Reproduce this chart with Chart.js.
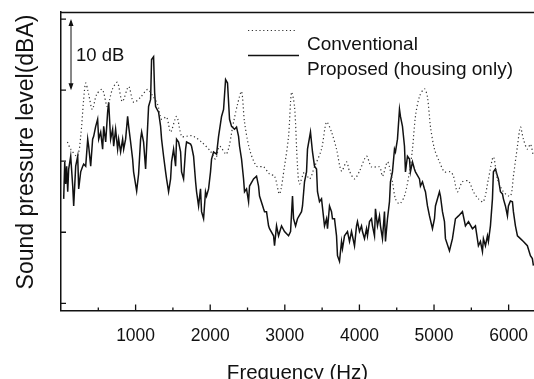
<!DOCTYPE html>
<html>
<head>
<meta charset="utf-8">
<script src="https://cdn.jsdelivr.net/npm/chart.js@4"></script>
<style>
  html, body { margin: 0; padding: 0; background: #fff; overflow: hidden; }
  #wrap { width: 534px; height: 398px; position: relative; }
</style>
</head>
<body>
<div id="wrap"><canvas id="chart"></canvas></div>
<script>
// Conventional (dotted)
const convFreq = [86, 130, 220, 264, 304, 331, 371, 420, 478, 554, 621, 688, 755, 822, 907, 973, 1067, 1161, 1228, 1295,
  1348, 1415, 1469, 1549, 1616, 1670, 1737, 1777, 1884, 2004, 2071, 2125, 2219, 2313, 2366, 2420, 2460, 2527, 2621, 2715,
  2795, 2862, 2929, 2996, 3050, 3090, 3130, 3170, 3197, 3264, 3331, 3398, 3492, 3559, 3626, 3693, 3760, 3827, 3867, 3934,
  4001, 4095, 4162, 4269, 4309, 4376, 4416, 4443, 4483, 4537, 4604, 4671, 4711, 4751, 4805, 4872, 4912, 4952, 5006, 5073,
  5140, 5220, 5260, 5314, 5381, 5462, 5528, 5595, 5662, 5729, 5796, 5850, 5930, 6024, 6064, 6118, 6158, 6198, 6251, 6292, 6332];
const convLevel = [52.7, 51.7, 50.7, 53.5, 58.7, 61.0, 59.4, 57.3, 59.4, 60.1, 57.7, 60.1, 61.1, 58.4, 60.5, 58.3, 59.0, 60.1, 59.2, 58.0,
  55.9, 56.2, 54.1, 56.3, 53.5, 53.5, 53.6, 53.5, 52.7, 51.4, 50.3, 52.1, 51.0, 55.5, 58.0, 59.8, 55.5, 51.7, 49.3, 49.2,
  48.2, 47.9, 45.4, 49.3, 53.5, 59.7, 57.7, 49.3, 46.8, 48.5, 47.5, 49.2, 51.7, 55.5, 54.1, 51.7, 48.6, 49.9, 48.6, 47.5,
  48.6, 50.7, 49.2, 49.2, 47.9, 49.9, 48.6, 47.1, 44.7, 44.0, 45.1, 48.5, 51.7, 56.3, 59.1, 60.2, 59.0, 54.9, 51.7, 49.9,
  48.5, 48.5, 47.9, 45.7, 47.1, 47.2, 45.7, 44.7, 44.3, 47.5, 50.6, 47.5, 45.7, 45.1, 47.9, 52.1, 54.8, 53.1, 51.7, 52.4, 50.7];

// Proposed (housing only), solid
const propFreq = [36, 50, 63, 76, 90, 103, 130, 157, 170, 197, 224, 237, 264, 291, 304, 331, 358, 371, 398, 424,
  438, 465, 491, 505, 532, 558, 572, 599, 625, 639, 665, 692, 706, 732, 759, 773, 799, 826, 840, 866,
  893, 907, 933, 960, 973, 1014, 1040, 1067, 1081, 1107, 1134, 1174, 1201, 1214, 1241, 1255, 1268, 1308, 1335, 1348,
  1375, 1402, 1415, 1442, 1469, 1482, 1509, 1536, 1549, 1576, 1603, 1616, 1643, 1670, 1683, 1737, 1750, 1777, 1804, 1817,
  1844, 1870, 1884, 1911, 1937, 1951, 1978, 2004, 2018, 2045, 2085, 2112, 2152, 2179, 2206, 2232, 2259, 2286, 2326, 2353,
  2380, 2393, 2420, 2447, 2460, 2487, 2514, 2527, 2581, 2621, 2648, 2661, 2715, 2728, 2755, 2782, 2795, 2849, 2862, 2889,
  2916, 2956, 2996, 3050, 3077, 3103, 3117, 3144, 3170, 3224, 3237, 3264, 3291, 3304, 3344, 3371, 3398, 3425, 3438, 3465,
  3492, 3532, 3559, 3572, 3599, 3626, 3639, 3666, 3693, 3706, 3733, 3760, 3773, 3800, 3840, 3867, 3894, 3934, 3961, 3974,
  4001, 4028, 4041, 4068, 4095, 4108, 4135, 4162, 4175, 4202, 4215, 4242, 4269, 4282, 4309, 4336, 4349, 4376, 4403, 4416,
  4443, 4470, 4483, 4510, 4537, 4550, 4577, 4604, 4617, 4644, 4671, 4684, 4711, 4737, 4751, 4805, 4818, 4845, 4872, 4885,
  4912, 4939, 4979, 5006, 5019, 5073, 5086, 5113, 5140, 5153, 5207, 5247, 5287, 5328, 5381, 5421, 5462, 5515, 5555, 5595,
  5622, 5649, 5662, 5689, 5716, 5729, 5756, 5783, 5796, 5823, 5850, 5863, 5890, 5917, 5930, 5957, 5984, 5997, 6024, 6051,
  6064, 6091, 6118, 6158, 6198, 6251, 6292, 6318, 6332];
const propLevel = [44.7, 49.9, 46.8, 49.3, 45.7, 48.9, 50.7, 46.5, 43.7, 49.3, 50.7, 46.1, 48.5, 49.3, 49.6, 49.3, 53.1, 52.1, 49.3, 53.1,
  53.5, 54.9, 55.9, 53.1, 54.1, 51.7, 54.9, 52.7, 56.9, 58.3, 53.1, 54.5, 52.1, 54.5, 51.7, 53.1, 51.3, 53.1, 51.7, 53.1,
  56.3, 54.9, 52.7, 50.3, 48.5, 45.8, 48.2, 53.1, 54.1, 52.7, 48.9, 57.7, 58.7, 64.3, 64.7, 59.7, 57.7, 56.9, 54.9, 53.1,
  50.7, 48.5, 47.5, 45.7, 47.5, 49.9, 51.7, 49.3, 53.1, 52.7, 51.3, 48.5, 47.5, 51.7, 52.7, 52.4, 52.1, 50.7, 47.1, 45.7,
  43.7, 46.1, 42.9, 41.9, 45.7, 45.1, 46.1, 48.5, 50.3, 51.3, 51.0, 53.5, 56.3, 57.3, 61.5, 61.0, 55.9, 54.9, 54.5, 54.8,
  53.5, 52.1, 50.3, 47.5, 45.7, 46.1, 44.3, 46.5, 47.5, 47.9, 46.5, 45.1, 43.3, 42.9, 42.9, 40.9, 40.5, 39.5, 38.1, 40.9,
  39.5, 40.9, 40.1, 39.5, 40.1, 45.1, 41.9, 40.9, 41.9, 42.9, 43.7, 47.1, 48.5, 51.7, 54.1, 51.3, 49.3, 48.9, 45.7, 44.3,
  44.7, 40.9, 41.9, 40.5, 43.7, 42.9, 41.9, 41.9, 39.5, 36.7, 35.9, 38.7, 37.7, 39.5, 40.1, 38.7, 40.1, 38.1, 40.9, 41.5,
  40.1, 40.9, 40.1, 39.1, 40.5, 39.5, 41.5, 41.9, 40.9, 39.5, 43.3, 40.9, 42.3, 40.9, 39.1, 42.9, 38.7, 41.9, 44.3, 47.1,
  48.5, 51.7, 51.3, 53.1, 57.3, 56.3, 54.9, 52.1, 48.5, 50.7, 50.3, 48.5, 49.9, 48.9, 48.5, 47.5, 46.5, 47.1, 46.1, 45.7,
  43.7, 42.3, 40.5, 41.9, 43.7, 45.7, 45.1, 42.9, 41.5, 39.1, 37.4, 39.1, 41.9, 42.3, 42.9, 40.9, 41.5, 40.5, 40.9, 38.1,
  38.7, 37.3, 39.1, 38.1, 39.5, 38.7, 40.9, 44.7, 48.5, 48.9, 47.9, 47.5, 45.7, 45.4, 44.7, 43.7, 42.3, 43.7, 44.4, 44.3,
  42.9, 40.9, 39.5, 39.1, 38.7, 38.1, 36.7, 36.3, 35.3];

const xTicks = [1000, 2000, 3000, 4000, 5000, 6000];
const xMinorTicks = [500, 1500, 2500, 3500, 4500, 5500];
const yTicks = [30, 40, 50, 60, 70];
const seriesNames = ["Conventional", "Proposed (housing only)"];

const FONT = '"Liberation Sans", Arial, Helvetica, sans-serif';
const INK = '#111';

// frame, inward ticks, 10 dB marker, legend and y title
const decorations = {
  id: 'decorations',
  afterDraw(chart) {
    const { ctx, chartArea: a, scales: { x, y } } = chart;
    ctx.save();
    ctx.strokeStyle = INK;
    ctx.lineWidth = 1.3;
    ctx.beginPath();
    ctx.moveTo(a.left, a.top + 0.5);
    ctx.lineTo(a.right, a.top + 0.5);
    xTicks.forEach(v => {
      const px = x.getPixelForValue(v);
      ctx.moveTo(px, a.bottom);
      ctx.lineTo(px, a.bottom - 6);
    });
    xMinorTicks.forEach(v => {
      const px = x.getPixelForValue(v);
      ctx.moveTo(px, a.bottom);
      ctx.lineTo(px, a.bottom - 3);
    });
    yTicks.forEach(v => {
      const py = y.getPixelForValue(v);
      ctx.moveTo(a.left, py);
      ctx.lineTo(a.left + 5, py);
    });
    ctx.stroke();

    // 10 dB double arrow
    const ax = a.left + 10;
    const y1 = y.getPixelForValue(70), y2 = y.getPixelForValue(60);
    ctx.lineWidth = 1;
    ctx.beginPath();
    ctx.moveTo(ax, y1 + 2);
    ctx.lineTo(ax, y2 - 2);
    ctx.stroke();
    ctx.fillStyle = INK;
    ctx.beginPath();
    ctx.moveTo(ax, y1); ctx.lineTo(ax - 2.5, y1 + 7); ctx.lineTo(ax + 2.5, y1 + 7); ctx.closePath();
    ctx.moveTo(ax, y2); ctx.lineTo(ax - 2.5, y2 - 7); ctx.lineTo(ax + 2.5, y2 - 7); ctx.closePath();
    ctx.fill();
    ctx.font = '18.5px ' + FONT;
    ctx.textBaseline = 'alphabetic';
    ctx.fillText('10 dB', ax + 5, (y1 + y2) / 2 + 6);

    // legend
    ctx.lineWidth = 1.2;
    ctx.setLineDash([1.2, 2.6]);
    ctx.strokeStyle = '#333';
    ctx.beginPath();
    ctx.moveTo(248, 30.5); ctx.lineTo(297, 30.5);
    ctx.stroke();
    ctx.setLineDash([]);
    ctx.strokeStyle = INK;
    ctx.lineWidth = 1.6;
    ctx.beginPath();
    ctx.moveTo(248, 55.5); ctx.lineTo(299, 55.5);
    ctx.stroke();
    ctx.font = '19px ' + FONT;
    ctx.fillText(seriesNames[0], 307, 50);
    ctx.fillText(seriesNames[1], 307, 75);

    // y axis title
    ctx.font = '23px ' + FONT;
    ctx.textAlign = 'center';
    ctx.textBaseline = 'middle';
    ctx.translate(27, 152);
    ctx.rotate(-Math.PI / 2);
    ctx.fillText('Sound pressure level(dBA)', 0, 0);
    ctx.restore();
  }
};

new Chart(document.getElementById('chart'), {
  type: 'line',
  data: {
    datasets: [
      {
        label: seriesNames[0],
        data: convFreq.map((f, i) => ({ x: f, y: convLevel[i] })),
        borderColor: '#333',
        borderWidth: 1.2,
        borderDash: [1.2, 2.6],
        pointRadius: 0,
        tension: 0.3,
        fill: false
      },
      {
        label: seriesNames[1],
        data: propFreq.map((f, i) => ({ x: f, y: propLevel[i] })),
        borderColor: INK,
        borderWidth: 1.5,
        pointRadius: 0,
        tension: 0,
        fill: false
      }
    ]
  },
  options: {
    responsive: true,
    maintainAspectRatio: false,
    animation: false,
    layout: { padding: { left: 61, right: 0, top: 12, bottom: 0 } },
    plugins: {
      legend: { display: false },
      tooltip: { enabled: false }
    },
    scales: {
      x: {
        type: 'linear',
        min: 0,
        max: 6340,
        afterBuildTicks: s => { s.ticks = xTicks.map(v => ({ value: v })); },
        afterFit: s => { s.paddingLeft = 0; s.paddingRight = 0; },
        grid: { display: false, drawTicks: false },
        border: { display: true, color: INK, width: 1.5 },
        ticks: {
          color: INK,
          padding: 15,
          maxRotation: 0,
          font: { family: FONT, size: 17.5 },
          callback: v => String(v)
        },
        title: {
          display: true,
          text: 'Frequency (Hz)',
          color: INK,
          font: { family: FONT, size: 20.5 },
          padding: { top: 0, bottom: 12 }
        }
      },
      y: {
        type: 'linear',
        min: 29,
        max: 71,
        afterBuildTicks: s => { s.ticks = yTicks.map(v => ({ value: v })); },
        grid: { display: false, drawTicks: false },
        border: { display: true, color: INK, width: 1.5 },
        ticks: { display: false }
      }
    }
  },
  plugins: [decorations]
});
</script>
</body>
</html>
